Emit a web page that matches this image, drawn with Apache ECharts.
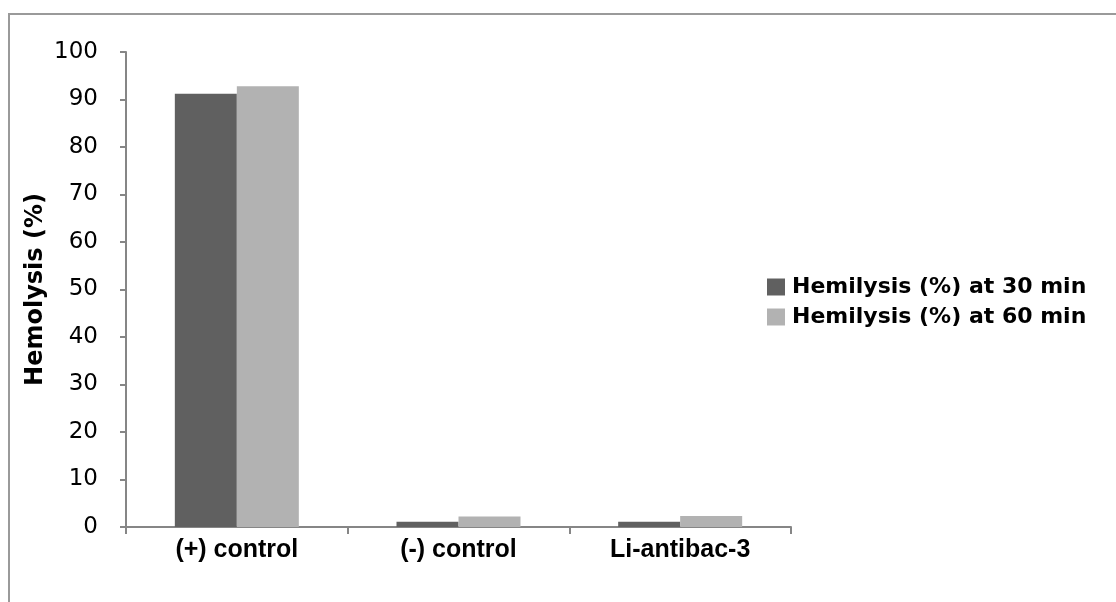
<!DOCTYPE html>
<html>
<head>
<meta charset="utf-8">
<script src="https://cdn.jsdelivr.net/npm/echarts@6/dist/echarts.min.js"></script>
<style>
html,body{margin:0;padding:0;background:#fff;}
#frame{position:absolute;left:8px;top:13px;width:1120px;height:600px;border-left:2px solid #9a9a9a;border-top:2px solid #9a9a9a;box-sizing:border-box;}
#chart{position:absolute;left:0;top:0;width:1116px;height:602px;}
</style>
</head>
<body>
<div id="frame"></div>
<div id="chart"></div>
<script>
const categories = ['(+) control', '(-) control', 'Li-antibac-3'];
const seriesNames = ['Hemilysis (%) at 30 min', 'Hemilysis (%) at 60 min'];
const values30 = [91.2, 1.1, 1.1];
const values60 = [92.8, 2.2, 2.3];
const yTicks = [0, 10, 20, 30, 40, 50, 60, 70, 80, 90, 100];

const chart = echarts.init(document.getElementById('chart'), null, {renderer: 'canvas'});
const axisColor = '#868686';
chart.setOption({
  backgroundColor: 'transparent',
  animation: false,
  grid: {left: 126, right: 325, top: 52, bottom: 75},
  legend: {
    orient: 'vertical',
    left: 762,
    top: 271,
    itemWidth: 18,
    itemHeight: 17,
    itemGap: 8,
    icon: 'rect',
    textStyle: {fontFamily: 'DejaVu Sans', fontWeight: 'bold', fontSize: 22, color: '#000', padding: [0,0,0,2]},
    data: seriesNames
  },
  xAxis: {
    type: 'category',
    data: categories,
    axisLine: {lineStyle: {color: axisColor, width: 2}},
    axisTick: {show: true, length: 7, lineStyle: {color: axisColor, width: 2}},
    axisLabel: {margin: 11, fontFamily: 'Liberation Sans Narrow, Liberation Sans', fontWeight: 'bold', fontSize: 25, color: '#000'}
  },
  yAxis: {
    type: 'value',
    min: yTicks[0],
    max: yTicks[yTicks.length - 1],
    interval: 10,
    name: 'Hemolysis (%)',
    nameLocation: 'middle',
    nameGap: 78,
    nameMoveOverlap: false,
    nameRotate: 90,
    nameTextStyle: {fontFamily: 'DejaVu Sans', fontWeight: 'bold', fontSize: 24, color: '#000'},
    splitLine: {show: false},
    axisLine: {show: true, lineStyle: {color: axisColor, width: 2}},
    axisTick: {show: true, length: 6, lineStyle: {color: axisColor, width: 2}},
    axisLabel: {margin: 28, fontFamily: 'DejaVu Sans', fontSize: 23, color: '#000'}
  },
  series: [
    {name: seriesNames[0], type: 'bar', data: values30, barWidth: 62, barGap: '0%',
     itemStyle: {color: '#606060'}},
    {name: seriesNames[1], type: 'bar', data: values60, barWidth: 62, barGap: '0%',
     itemStyle: {color: '#b2b2b2'}}
  ]
});
</script>
</body>
</html>
